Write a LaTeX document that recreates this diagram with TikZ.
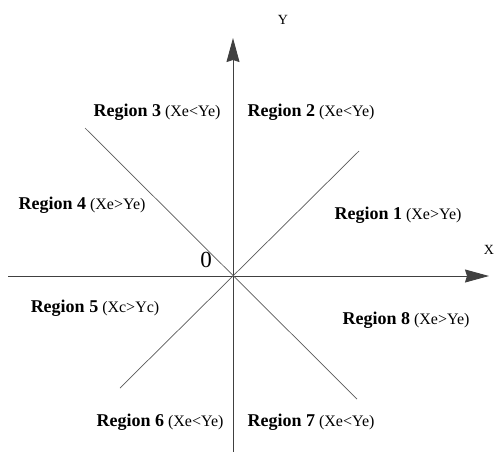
\documentclass[tikz,border=0pt]{standalone}
\usepackage{fontspec}
\setmainfont{Liberation Serif}
\usepackage{tikz}
\usetikzlibrary{arrows.meta}

\begin{document}
\begin{tikzpicture}[x=1pt,y=-1pt,>={Stealth[length=24pt,width=13pt,inset=2pt]},
  region/.style={inner sep=0pt,font=\fontsize{16}{18}\selectfont}]
  \useasboundingbox (0,0) rectangle (495,451);
  % axes
  \coordinate (o) at (233,276);
  \coordinate (xs) at (8,276);
  \coordinate (xe) at (489,276);
  \coordinate (ys) at (233,460);
  \coordinate (ye) at (233,38);
  \draw[black!75, line width=0.9pt, ->] (xs) -- (xe);
  \draw[black!75, line width=0.9pt, ->] (ys) -- (ye);
  % diagonals
  \coordinate (d1) at (359,151);
  \coordinate (d3) at (85,128);
  \coordinate (d5) at (120,388);
  \coordinate (d7) at (357,399);
  \draw[black!65, line width=0.7pt] (d5) -- (d1);
  \draw[black!65, line width=0.7pt] (d3) -- (d7);
  % axis labels
  \node[inner sep=0pt,font=\fontsize{14}{16}\selectfont] (xl) at (489,250) {X};
  \node[inner sep=0pt,font=\fontsize{14}{16}\selectfont] (yl) at (283,20) {Y};
  \node[inner sep=0pt,font=\fontsize{23}{26}\selectfont] (zero) at (206,260) {0};
  % regions
  \node[region] (r1) at (398,215) {{\fontsize{18}{20}\selectfont\bfseries Region 1} (Xe>Ye)};
  \node[region] (r2) at (311,112) {{\fontsize{18}{20}\selectfont\bfseries Region 2} (Xe<Ye)};
  \node[region] (r3) at (157,112) {{\fontsize{18}{20}\selectfont\bfseries Region 3} (Xe<Ye)};
  \node[region] (r4) at (82,205) {{\fontsize{18}{20}\selectfont\bfseries Region 4} (Xe>Ye)};
  \node[region] (r5) at (95,308) {{\fontsize{18}{20}\selectfont\bfseries Region 5} (Xc>Yc)};
  \node[region] (r6) at (160,422) {{\fontsize{18}{20}\selectfont\bfseries Region 6} (Xe<Ye)};
  \node[region] (r7) at (311,422) {{\fontsize{18}{20}\selectfont\bfseries Region 7} (Xe<Ye)};
  \node[region] (r8) at (406,320) {{\fontsize{18}{20}\selectfont\bfseries Region 8} (Xe>Ye)};
\end{tikzpicture}
\end{document}
